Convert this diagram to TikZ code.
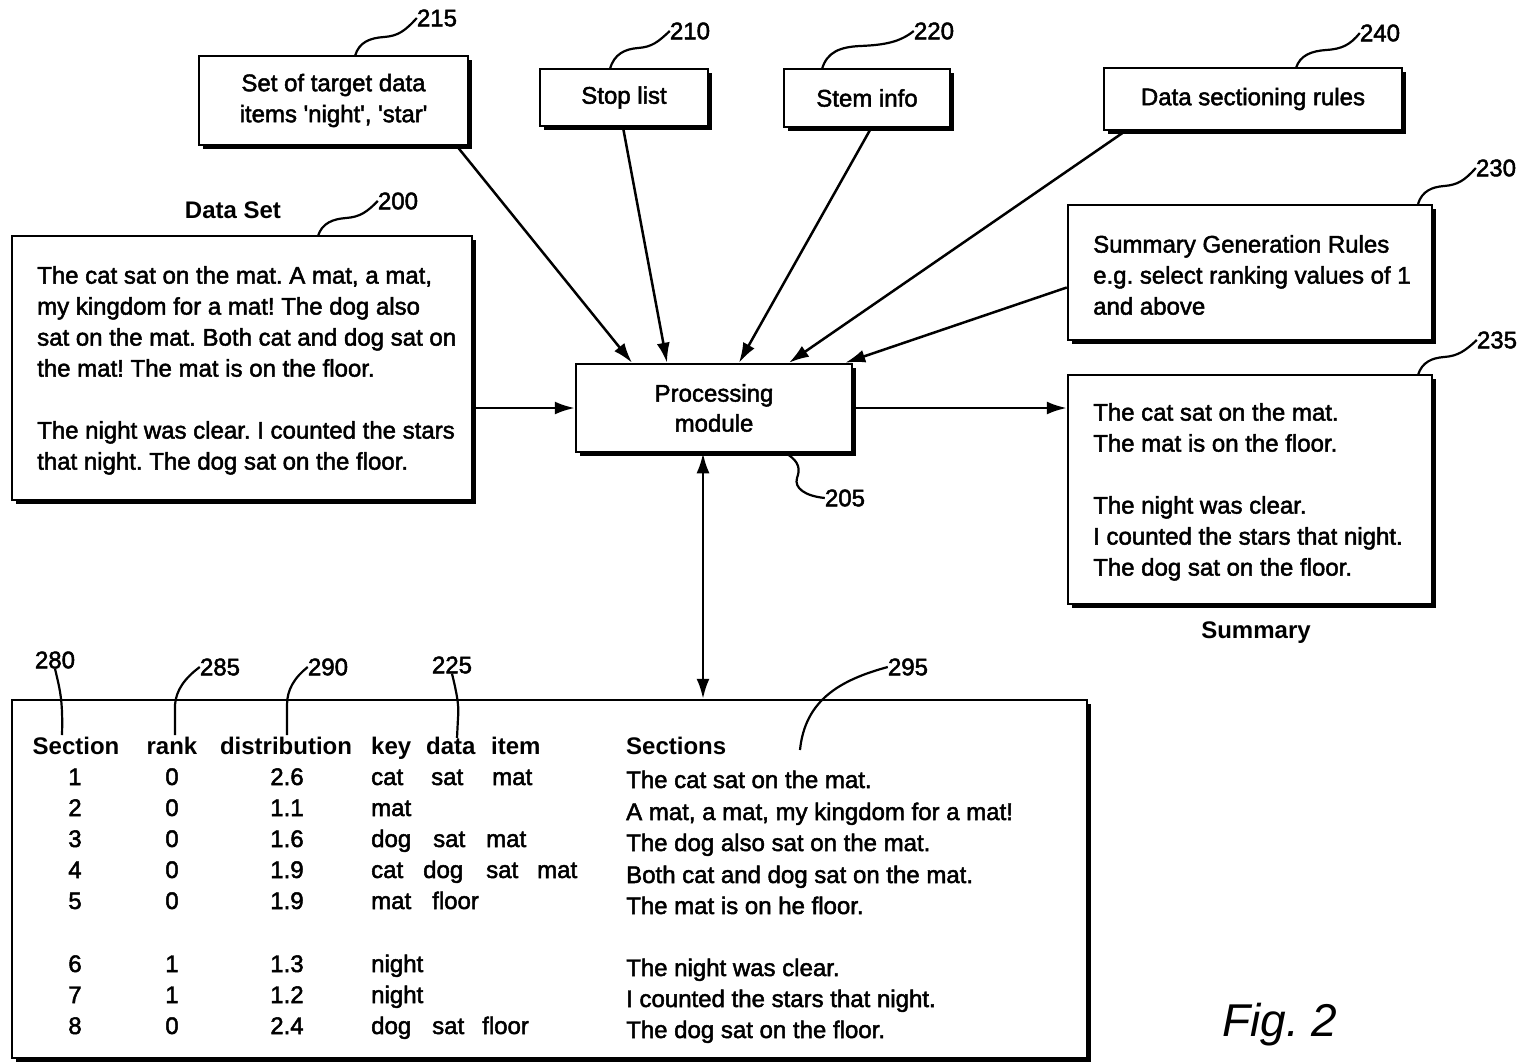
\documentclass[tikz,border=0pt]{standalone}
\usepackage{fontspec}
\setmainfont{Liberation Sans}[UprightFeatures={FakeBold=2}]
\usetikzlibrary{arrows.meta,shadows}
\begin{document}
\frenchspacing
\begin{tikzpicture}[x=1pt,y=-1pt,
  every node/.style={font=\fontsize{24}{31}\selectfont, inner sep=0pt},
  box/.style={draw, line width=2.5pt, fill=white,
    drop shadow={shadow xshift=3.5pt, shadow yshift=-3.5pt, opacity=1, fill=black}},
  conn/.style={line width=2.5pt, -{Latex[length=20pt,width=13pt]}},
  dconn/.style={line width=2.5pt, {Latex[length=20pt,width=13pt]}-{Latex[length=20pt,width=13pt]}},
  lead/.style={line width=2.2pt},
  hd/.style={font=\fontsize{24}{31}\selectfont\bfseries},
  txt/.style={anchor=base west},
  ctr/.style={anchor=base},
  para/.style={anchor=north west, align=left}
]
\useasboundingbox[fill=white] (0,0) rectangle (1526,1061);

% ---- boxes
\node[box, minimum width=269, minimum height=89, align=center] (tgt) at (333.5,100.5)
  {Set of target data\\items \textquotesingle night\textquotesingle, \textquotesingle star\textquotesingle};
\node[box, minimum width=168, minimum height=57] (stop) at (624,97.5) {Stop list};
\node[box, minimum width=166, minimum height=58] (stem) at (867,98) {Stem info};
\node[box, minimum width=298, minimum height=62] (dsr) at (1253,99) {Data sectioning rules};
\node[box, minimum width=460, minimum height=264] (ds) at (242,368) {};
\node[box, minimum width=364, minimum height=135] (sgr) at (1250,272.5) {};
\node[box, minimum width=364, minimum height=229] (sum) at (1250,489.5) {};
\node[box, minimum width=276, minimum height=88, align=center, font=\fontsize{24}{30}\selectfont] (proc) at (714,408)
  {Processing\\module};
\node[box, minimum width=1075, minimum height=358] (tab) at (549.5,879) {};

% ---- box texts
\node[para] (dstext) at (37,266)
  {The cat sat on the mat. A mat, a mat,\\my kingdom for a mat! The dog also\\sat on the mat. Both cat and dog sat on\\the mat! The mat is on the floor.\\[31pt]The night was clear. I counted the stars\\that night. The dog sat on the floor.};
\node[para] (sgrtext) at (1093,235)
  {Summary Generation Rules\\e.g. select ranking values of 1\\and above};
\node[para] (sumtext) at (1093,403)
  {The cat sat on the mat.\\The mat is on the floor.\\[31pt]The night was clear.\\I counted the stars that night.\\The dog sat on the floor.};

% ---- titles
\node[hd] (dstitle) at (233,210) {Data Set};
\node[hd] (sumtitle) at (1256,633) {Summary};
\node[font=\fontsize{46}{50}\selectfont\itshape] (fig) at (1280,1025) {Fig. 2};

% ---- reference numerals
\node (l215) at (437,18) {215};
\node (l210) at (690,31) {210};
\node (l220) at (934,31) {220};
\node (l240) at (1380,33) {240};
\node (l200) at (398,201) {200};
\node (l230) at (1496,168) {230};
\node (l235) at (1497,340) {235};
\node (l205) at (845,498) {205};
\node (l280) at (55,660) {280};
\node (l285) at (220,667) {285};
\node (l290) at (328,667) {290};
\node (l225) at (452,665) {225};
\node (l295) at (908,667) {295};

% ---- leaders
\draw[lead] (355,56) .. controls (359,42) and (370,38) .. (384,37) .. controls (398,36) and (405,31) .. (l215.west);
\draw[lead] (610,69) .. controls (614,54) and (625,49) .. (638,48) .. controls (652,47) and (658,42) .. (l210.west);
\draw[lead] (822,69) .. controls (827,52) and (840,47) .. (860,46) .. controls (885,45) and (900,42) .. (l220.west);
\draw[lead] (1296,68) .. controls (1300,55) and (1312,51) .. (1326,50) .. controls (1342,49) and (1350,45) .. (l240.west);
\draw[lead] (318,236) .. controls (322,223) and (333,219) .. (346,218) .. controls (360,217) and (367,212) .. (l200.west);
\draw[lead] (1418,204) .. controls (1422,191) and (1432,187) .. (1444,186) .. controls (1458,185) and (1465,180) .. (l230.west);
\draw[lead] (1418,375) .. controls (1422,362) and (1432,358) .. (1444,357) .. controls (1458,356) and (1465,351) .. (l235.west);
\draw[lead] (787,454) .. controls (800,462) and (800,470) .. (797,478) .. controls (794,488) and (805,496) .. (l205.west);
\draw[lead] (l280.south) .. controls (60,690) and (63,700) .. (62,735);
\draw[lead] (l285.west) .. controls (185,678) and (176,690) .. (175,705) -- (175,735);
\draw[lead] (l290.west) .. controls (294,678) and (287,690) .. (287,705) -- (287,735);
\draw[lead] (l225.south) .. controls (458,698) and (459,708) .. (458,718) -- (457,738);
\draw[lead] (l295.west) .. controls (840,680) and (805,700) .. (800,750);

% ---- connectors
\draw[conn] ([xshift=123.5]tgt.south) -- ([xshift=-82]proc.north);
\draw[conn] ([xshift=-1]stop.south) -- ([xshift=-47]proc.north);
\draw[conn] ([xshift=4]stem.south) -- ([xshift=25]proc.north);
\draw[conn] ([xshift=-128]dsr.south) -- ([xshift=75]proc.north);
\draw[conn] ([yshift=-15]sgr.west) -- ([xshift=-8]proc.north east);
\draw[conn] (ds.east |- proc.west) -- (proc.west);
\draw[conn] (proc.east) -- (proc.east -| sum.west);
\draw[dconn] ([xshift=-11]proc.south) -- ([xshift=-11]proc.south |- tab.north);

% ---- table header
\node[hd, ctr] (hsec) at (76,754) {Section};
\node[hd, ctr] (hrank) at (172,754) {rank};
\node[hd, ctr] (hdist) at (286,754) {distribution};
\node[hd, txt] (hkey) at (371,754) {key};
\node[hd, txt] (hdata) at (426,754) {data};
\node[hd, txt] (hitem) at (491,754) {item};
\node[hd, txt] (hsects) at (626,754) {Sections};

% ---- table rows
\foreach \n/\r/\d/\yy in {1/0/2.6/785, 2/0/1.1/816, 3/0/1.6/847, 4/0/1.9/878, 5/0/1.9/909, 6/1/1.3/972, 7/1/1.2/1003, 8/0/2.4/1034}{
  \node[ctr] (sn\n) at (75,\yy) {\n};
  \node[ctr] (rk\n) at (172,\yy) {\r};
  \node[ctr] (dv\n) at (287,\yy) {\d};
}
\foreach \w/\x/\yy/\k in {cat/371/785/a, sat/431/785/b, mat/492/785/c,
  mat/371/816/d,
  dog/371/847/e, sat/433/847/f, mat/486/847/g,
  cat/371/878/h, dog/423/878/i, sat/486/878/j, mat/537/878/k,
  mat/371/909/l, floor/432/909/m,
  night/371/972/n, night/371/1003/o,
  dog/371/1034/p, sat/432/1034/q, floor/482/1034/r}{
  \node[txt] (kw\k) at (\x,\yy) {\w};
}
\foreach \s/\yy/\k in {The cat sat on the mat./788/1,
  {A mat, a mat, my kingdom for a mat!}/820/2,
  The dog also sat on the mat./851/3,
  Both cat and dog sat on the mat./883/4,
  The mat is on he floor./914/5,
  The night was clear./976/6,
  I counted the stars that night./1007/7,
  The dog sat on the floor./1038/8}{
  \node[txt] (st\k) at (626,\yy) {\s};
}
\end{tikzpicture}
\end{document}
